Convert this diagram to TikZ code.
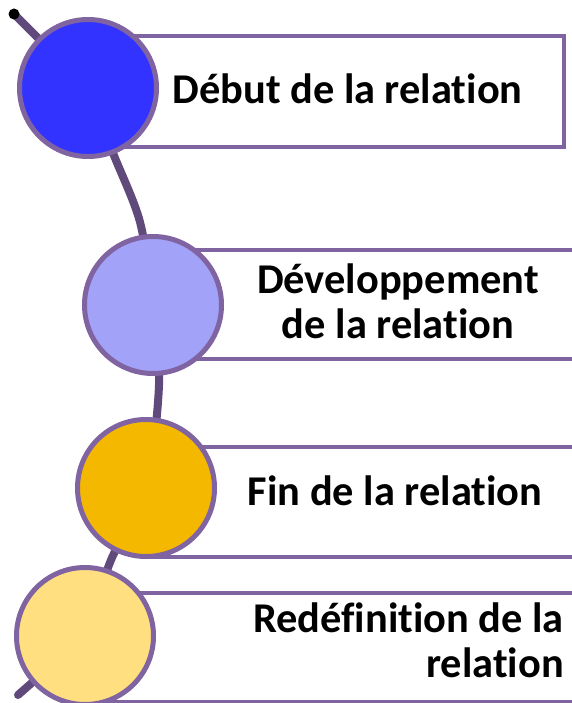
\documentclass[tikz,border=0pt]{standalone}
\usepackage{fontspec}
\setmainfont{Carlito}[Ligatures=NoCommon]
\definecolor{boxline}{HTML}{8064A2}
\definecolor{curveline}{HTML}{604A7B}
\definecolor{fillA}{HTML}{3333FF}
\definecolor{fillB}{HTML}{A2A2F9}
\definecolor{fillC}{HTML}{F5B800}
\definecolor{fillD}{HTML}{FFDF80}
\tikzset{
  stagecircle/.style={circle, draw=boxline, line width=5pt, minimum size=137pt, inner sep=0pt},
  stagebox/.style={draw=boxline, line width=4pt, fill=white},
  stagetext/.style={font=\bfseries\fontsize{42.4}{45}\selectfont, inner sep=0pt},
  spine/.style={draw=curveline, line width=8pt, line cap=round, line join=round}
}
\begin{document}
\begin{tikzpicture}[x=1pt,y=-1pt]
\useasboundingbox (0,0) rectangle (571,703);
% circle centres
\coordinate (p1) at (88,88);
\coordinate (p2) at (153,305);
\coordinate (p3) at (146,488);
\coordinate (p4) at (85,636);
\coordinate (q1) at (113,153);
\coordinate (q2) at (140,222);
\coordinate (q3) at (159,385);
\coordinate (q4) at (111,560);
\coordinate (s) at (14,14);
\coordinate (e) at (18,695);
% spine
\draw[spine] (s) -- (p1);
\draw[spine] plot[smooth, tension=0.5] coordinates {(p1) (q1) (q2) (p2) (q3) (p3) (q4) (p4)};
\draw[spine] (p4) -- (e);
\fill[black] (s) circle (5.5pt);
% boxes
\draw[stagebox] (88,36) rectangle (564,147);
\draw[stagebox] (153,250) rectangle (590,359);
\draw[stagebox] (146,447) rectangle (590,557);
\draw[stagebox] (85,593) rectangle (590,702);
% circles
\node[stagecircle, fill=fillA] (c1) at (p1) {};
\node[stagecircle, fill=fillB] (c2) at (p2) {};
\node[stagecircle, fill=fillC] (c3) at (p3) {};
\node[stagecircle, fill=fillD] (c4) at (p4) {};
% texts
\node[stagetext, anchor=base] (t1) at (347.5,104) {Début de la relation};
\node[stagetext, anchor=base, align=center] (t2) at (398,338) {Développement\\de la relation};
\node[stagetext, anchor=base] (t3) at (395,505) {Fin de la relation};
\node[stagetext, anchor=base east, align=right] (t4) at (564,677) {Redéfinition de la\\relation};
\end{tikzpicture}
\end{document}
